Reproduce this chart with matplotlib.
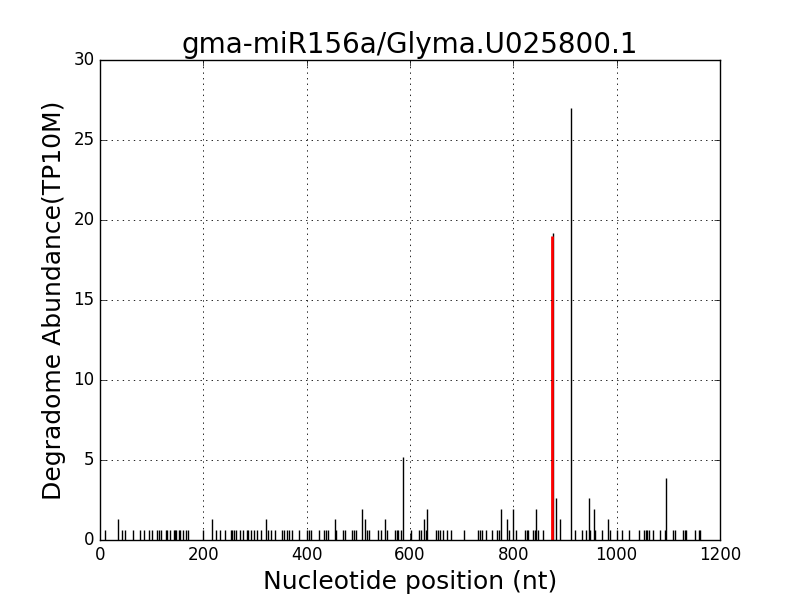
import matplotlib
matplotlib.use("Agg")
import matplotlib.pyplot as plt

plt.style.use("classic")

title = "gma-miR156a/Glyma.U025800.1"
xlabel = "Nucleotide position (nt)"
ylabel = "Degradome Abundance(TP10M)"

# degradome tags (position, abundance)
positions = [10, 35, 43, 48, 63, 78, 85, 94, 101, 110, 114, 119, 127, 130, 135,
             143, 146, 148, 152, 155, 161, 166, 171, 200, 216, 224, 233, 242, 253,
             256, 259, 264, 270, 276, 284, 287, 292, 299, 304, 311, 321, 326, 331,
             339, 352, 357, 361, 366, 371, 386, 401, 404, 408, 424, 433, 437, 442,
             455, 457, 470, 475, 487, 491, 495, 508, 513, 517, 521, 538, 544, 551,
             555, 571, 574, 577, 582, 587, 602, 618, 621, 627, 630, 632, 651, 655,
             658, 664, 671, 680, 704, 731, 735, 739, 748, 758, 769, 773, 777, 788,
             792, 800, 806, 822, 826, 829, 838, 842, 844, 848, 858, 876, 883, 890,
             911, 919, 933, 941, 946, 949, 956, 959, 971, 984, 987, 1000, 1010, 1024,
             1044, 1053, 1056, 1059, 1062, 1071, 1084, 1094, 1096, 1109, 1113,
             1129, 1132, 1135, 1151, 1159, 1162]
abundance = [0.65, 1.3, 0.65, 0.65, 0.65, 0.65, 0.65, 0.65, 0.65, 0.65, 0.65, 0.65,
             0.65, 0.65, 0.65, 0.65, 0.65, 0.65, 0.65, 0.65, 0.65, 0.65, 0.65, 0.65,
             1.3, 0.65, 0.65, 0.65, 0.65, 0.65, 0.65, 0.65, 0.65, 0.65, 0.65, 0.65,
             0.65, 0.65, 0.65, 0.65, 1.3, 0.65, 0.65, 0.65, 0.65, 0.65, 0.65, 0.65,
             0.65, 0.65, 0.65, 0.65, 0.65, 0.65, 0.65, 0.65, 0.65, 1.3, 0.65, 0.65,
             0.65, 0.65, 0.65, 0.65, 1.95, 1.3, 0.65, 0.65, 0.65, 0.65, 1.3, 0.65,
             0.65, 0.65, 0.65, 0.65, 5.2, 0.65, 0.65, 0.65, 1.3, 0.65, 1.95, 0.65,
             0.65, 0.65, 0.65, 0.65, 0.65, 0.65, 0.65, 0.65, 0.65, 0.65, 0.65, 0.65,
             0.65, 1.95, 1.3, 0.65, 1.95, 0.65, 0.65, 0.65, 0.65, 0.65, 0.65, 1.95,
             0.65, 0.65, 19.2, 2.6, 1.3, 27.0, 0.65, 0.65, 0.65, 2.6, 0.65, 1.95, 0.65,
             0.65, 1.3, 0.65, 0.65, 0.65, 0.65, 0.65, 0.65, 0.65, 0.65, 0.65, 0.65,
             0.65, 0.65, 3.9, 0.65, 0.65, 0.65, 0.65, 0.65, 0.65, 0.65, 0.65]

# target (cleavage) site
target_positions = [875]
target_abundance = [19.0]

fig = plt.figure(figsize=(8, 6), dpi=100, facecolor="white")
ax = fig.add_axes([0.125, 0.1, 0.775, 0.8])
ax.vlines(positions, 0, abundance, colors="black", linewidth=1.0)
ax.vlines(target_positions, 0, target_abundance, colors="red", linewidth=2.0)

ax.set_xlim(0, 1200)
ax.set_ylim(0, 30)
ax.grid(True, color="black", linestyle=":", linewidth=0.6)
ax.set_title(title, fontsize=20)
ax.set_xlabel(xlabel, fontsize=18)
ax.set_ylabel(ylabel, fontsize=18)
ax.tick_params(labelsize=12)

fig.savefig("out.png", dpi=100, facecolor="white")
